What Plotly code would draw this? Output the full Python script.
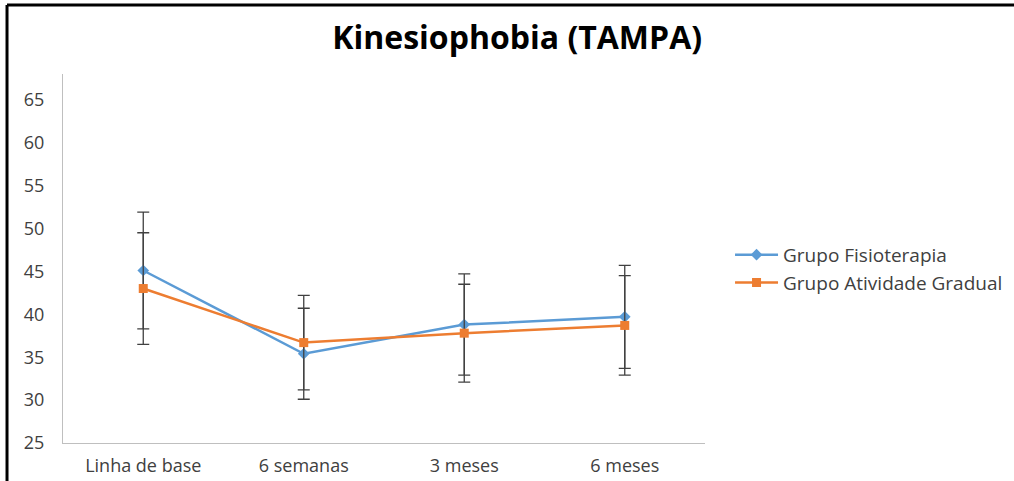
import plotly.graph_objects as go

categories = ["Linha de base", "6 semanas", "3 meses", "6 meses"]
fisio = [45.1, 35.4, 38.8, 39.7]
fisio_err = [6.8, 5.3, 5.9, 6.0]
gradual = [43.0, 36.7, 37.8, 38.7]
gradual_err = [6.5, 5.5, 5.7, 5.8]
y_ticks = [25, 30, 35, 40, 45, 50, 55, 60, 65]

fig = go.Figure()
fig.add_trace(go.Scatter(
    x=categories, y=fisio, name="Grupo Fisioterapia", mode="lines+markers",
    line=dict(color="#5B9BD5", width=2.5),
    marker=dict(symbol="diamond", size=9, color="#5B9BD5"),
    error_y=dict(type="data", array=fisio_err, color="#404040", thickness=1.3, width=6),
))
fig.add_trace(go.Scatter(
    x=categories, y=gradual, name="Grupo Atividade Gradual", mode="lines+markers",
    line=dict(color="#ED7D31", width=2.5),
    marker=dict(symbol="square", size=9, color="#ED7D31"),
    error_y=dict(type="data", array=gradual_err, color="#404040", thickness=1.3, width=6),
))

fig.update_layout(
    width=1014, height=481,
    margin=dict(l=63, r=309, t=74, b=38, autoexpand=False),
    paper_bgcolor="white", plot_bgcolor="white",
    font=dict(family="Open Sans", size=18, color="#404040"),
    title=dict(text="<b>Kinesiophobia (TAMPA)</b>", x=0.51, xanchor="center",
               y=0.921, yanchor="middle", font=dict(size=32, color="black")),
    legend=dict(x=1.039, xanchor="left", y=0.472, yanchor="middle", itemwidth=43,
                font=dict(size=19, color="#404040"), tracegroupgap=4),
    showlegend=True,
    shapes=[
        dict(type="line", xref="paper", yref="paper", x0=-0.0872, x1=-0.0872,
             y0=1.187, y1=-0.2, line=dict(color="black", width=3)),
        dict(type="line", xref="paper", yref="paper", x0=-0.0872, x1=1.6,
             y0=1.187, y1=1.187, line=dict(color="black", width=3)),
    ],
)
fig.update_xaxes(range=[-0.5, 3.5], showline=True, linecolor="#BFBFBF", linewidth=1,
                 showgrid=False, ticks="", tickfont=dict(size=18, color="#404040"),
                 zeroline=False, ticklabelstandoff=6, automargin=False)
fig.update_yaxes(range=[25, 68], tickvals=y_ticks, showline=True, linecolor="#BFBFBF",
                 linewidth=1, showgrid=False, ticks="", zeroline=False, automargin=False,
                 tickfont=dict(size=18, color="#404040"), ticklabelstandoff=14)

fig.write_html("out.html", config={"displayModeBar": False},
               post_script="document.body.style.margin='0';document.body.style.overflow='hidden';")
